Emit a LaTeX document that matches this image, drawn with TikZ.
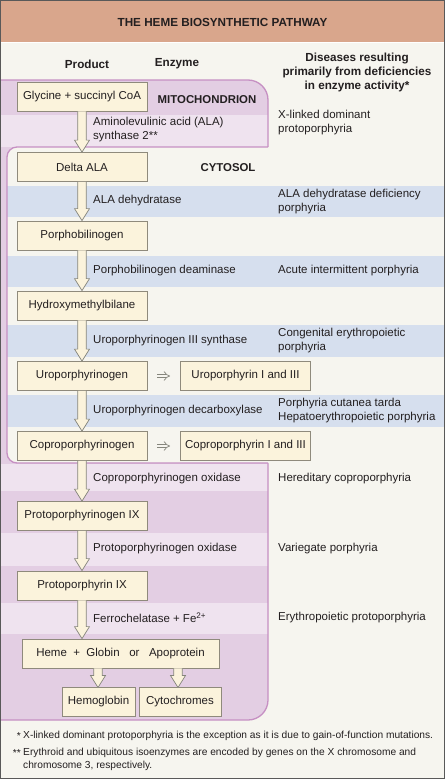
\documentclass[tikz,border=0pt]{standalone}
\usepackage{fontspec}
\setmainfont{Liberation Sans}
\usetikzlibrary{arrows.meta,calc}
\definecolor{bgc}{HTML}{F6F5EF}
\definecolor{titlec}{HTML}{D9A68C}
\definecolor{mitodark}{HTML}{E3CEE3}
\definecolor{mitolight}{HTML}{EFE3EF}
\definecolor{mitoline}{HTML}{C690C3}
\definecolor{cytoblue}{HTML}{D6DFEE}
\definecolor{boxfill}{HTML}{FBF3DC}
\definecolor{boxline}{HTML}{8F8A7C}
\definecolor{txt}{HTML}{231F20}
\definecolor{arrline}{HTML}{85857C}
\newcommand\blkarr[2]{%
  \path[blockarr] let \p1=(#1), \p2=(#2) in
    (\x1-4.3pt,\y1) -- (\x1-4.3pt,\y2+12pt) -- (\x1-7.5pt,\y2+12pt) -- (\x1,\y2)
    -- (\x1+7.5pt,\y2+12pt) -- (\x1+4.3pt,\y2+12pt) -- (\x1+4.3pt,\y1);}
\begin{document}
\begin{tikzpicture}[x=1pt,y=-1pt,
  every node/.style={text=txt},
  prodbox/.style={draw=boxline, fill=boxfill, line width=0.8pt, minimum height=29pt,
    inner sep=0pt, font=\fontsize{11.5}{14}\selectfont},
  enz/.style={anchor=west, inner sep=0pt, align=left, font=\fontsize{11.5}{14}\selectfont},
  dis/.style={anchor=west, inner sep=0pt, align=left, font=\fontsize{11.5}{14}\selectfont},
  hdr/.style={inner sep=0pt, align=center, font=\bfseries\fontsize{11.7}{14}\selectfont},
  foot/.style={anchor=west, inner sep=0pt, align=left, font=\fontsize{10.2}{13}\selectfont},
  blockarr/.style={fill=boxfill, draw=arrline, line width=0.7pt, line join=miter},
  dblarr/.style={draw=arrline, double=bgc, double distance=2.6pt, line width=0.7pt,
    -{Implies}, shorten <=10pt, shorten >=10pt},
]
\useasboundingbox (0,0) rectangle (445,779);
% background and title band
\fill[bgc] (0,0) rectangle (445,779);
\fill[titlec] (0,0) rectangle (445,42);
\draw[white, line width=1pt] (0,42.5) -- (445,42.5);
\node[hdr] (title) at (222.5,22) {THE HEME BIOSYNTHETIC PATHWAY};
% headers
\node[hdr] (hprod) at (87,64) {Product};
\node[hdr] (henz) at (177,64) {Enzyme};
\node[hdr] (hdis) at (357,72) {Diseases resulting\\primarily from deficiencies\\in enzyme activity*};
% mitochondrion
\fill[mitodark, rounded corners=20pt] (0,80) -- (268,80) -- (268,720) -- (0,720);
\fill[mitolight] (0,115) rectangle (268,147);
\fill[mitolight] (0,464) rectangle (268,491);
\fill[mitolight] (0,533) rectangle (268,566);
\fill[mitolight] (0,603) rectangle (268,634);
\draw[mitoline, line width=1.3pt, rounded corners=20pt] (0,80) -- (268,80) -- (268,720) -- (0,720);
% cytosol
\fill[bgc, rounded corners=10pt] (445,147) -- (7,147) -- (7,463) -- (445,463);
\fill[cytoblue] (7,186) rectangle (445,217);
\fill[cytoblue] (7,256) rectangle (445,287);
\fill[cytoblue] (7,325) rectangle (445,357);
\fill[cytoblue] (7,395) rectangle (445,427);
\draw[mitoline, line width=1.3pt, rounded corners=10pt] (268,147) -- (7,147) -- (7,463) -- (268,463);
\node[hdr, font=\bfseries\fontsize{11.4}{14}\selectfont] (mito) at (207,100) {MITOCHONDRION};
\node[hdr, font=\bfseries\fontsize{11.4}{14}\selectfont] (cyto) at (228,168) {CYTOSOL};
% product boxes
\node[prodbox, minimum width=130pt] (gly) at (82,96.5) {Glycine + succinyl CoA};
\node[prodbox, minimum width=130pt] (dala) at (82,167) {Delta ALA};
\node[prodbox, minimum width=130pt] (pbg) at (82,235.5) {Porphobilinogen};
\node[prodbox, minimum width=130pt] (hmb) at (82,305.5) {Hydroxymethylbilane};
\node[prodbox, minimum width=130pt] (uro) at (82,376) {Uroporphyrinogen};
\node[prodbox, minimum width=130pt] (uroI) at (245.5,376) {Uroporphyrin I and III};
\node[prodbox, minimum width=130pt] (copro) at (82,446) {Coproporphyrinogen};
\node[prodbox, minimum width=130pt] (coproI) at (245.5,446) {Coproporphyrin I and III};
\node[prodbox, minimum width=130pt] (ppgen) at (82,516) {Protoporphyrinogen IX};
\node[prodbox, minimum width=130pt] (pp) at (82,585.5) {Protoporphyrin IX};
\node[prodbox, minimum width=197pt] (heme) at (120.5,653.5) {Heme\ \ +\ \ Globin\ \ \ or\ \ \ Apoprotein};
\node[prodbox, minimum width=73pt] (hb) at (98.5,702) {Hemoglobin};
\node[prodbox, minimum width=82pt] (cytc) at (180,702) {Cytochromes};
\coordinate (hbtop) at (98,687.5);
\coordinate (cytop) at (178,687.5);
% enzymes
\node[enz] (e1) at (93,130) {Aminolevulinic acid (ALA)\\synthase 2**};
\node[enz] (e2) at (93,201) {ALA dehydratase};
\node[enz] (e3) at (93,271) {Porphobilinogen deaminase};
\node[enz] (e4) at (93,341) {Uroporphyrinogen III synthase};
\node[enz] (e5) at (93,411) {Uroporphyrinogen decarboxylase};
\node[enz] (e6) at (93,479) {Coproporphyrinogen oxidase};
\node[enz] (e7) at (93,549) {Protoporphyrinogen oxidase};
\node[enz] (e8) at (93,618) {Ferrochelatase + Fe\textsuperscript{2+}};
% diseases
\node[dis] (d1) at (278,123) {X-linked dominant\\protoporphyria};
\node[dis] (d2) at (278,201.5) {ALA dehydratase deficiency\\porphyria};
\node[dis] (d3) at (278,271) {Acute intermittent porphyria};
\node[dis] (d4) at (278,341) {Congenital erythropoietic\\porphyria};
\node[dis] (d5) at (278,411) {Porphyria cutanea tarda\\Hepatoerythropoietic porphyria};
\node[dis] (d6) at (278,479) {Hereditary coproporphyria};
\node[dis] (d7) at (278,549) {Variegate porphyria};
\node[dis] (d8) at (278,618) {Erythropoietic protoporphyria};
% block arrows
\blkarr{gly.south}{dala.north}
\blkarr{dala.south}{pbg.north}
\blkarr{pbg.south}{hmb.north}
\blkarr{hmb.south}{uro.north}
\blkarr{uro.south}{copro.north}
\blkarr{copro.south}{ppgen.north}
\blkarr{ppgen.south}{pp.north}
\blkarr{pp.south}{heme.north -| pp.north}
\blkarr{heme.south -| hbtop}{hbtop}
\blkarr{heme.south -| cytop}{cytop}
% double arrows
\draw[dblarr] (uro.east) -- (uroI.west);
\draw[dblarr] (copro.east) -- (coproI.west);
% footnotes
\node[foot, anchor=east] (s1) at (21,736) {*};
\node[foot] (f1) at (23,736) {X-linked dominant protoporphyria is the exception as it is due to gain-of-function mutations.};
\node[foot, anchor=east] (s2) at (21,753) {**};
\node[foot] (f2) at (23,759.5) {Erythroid and ubiquitous isoenzymes are encoded by genes on the X chromosome and\\chromosome 3, respectively.};
% frame
\draw[gray!70!black, line width=1pt] (0.5,0.5) rectangle (444.5,778.5);
\end{tikzpicture}
\end{document}
